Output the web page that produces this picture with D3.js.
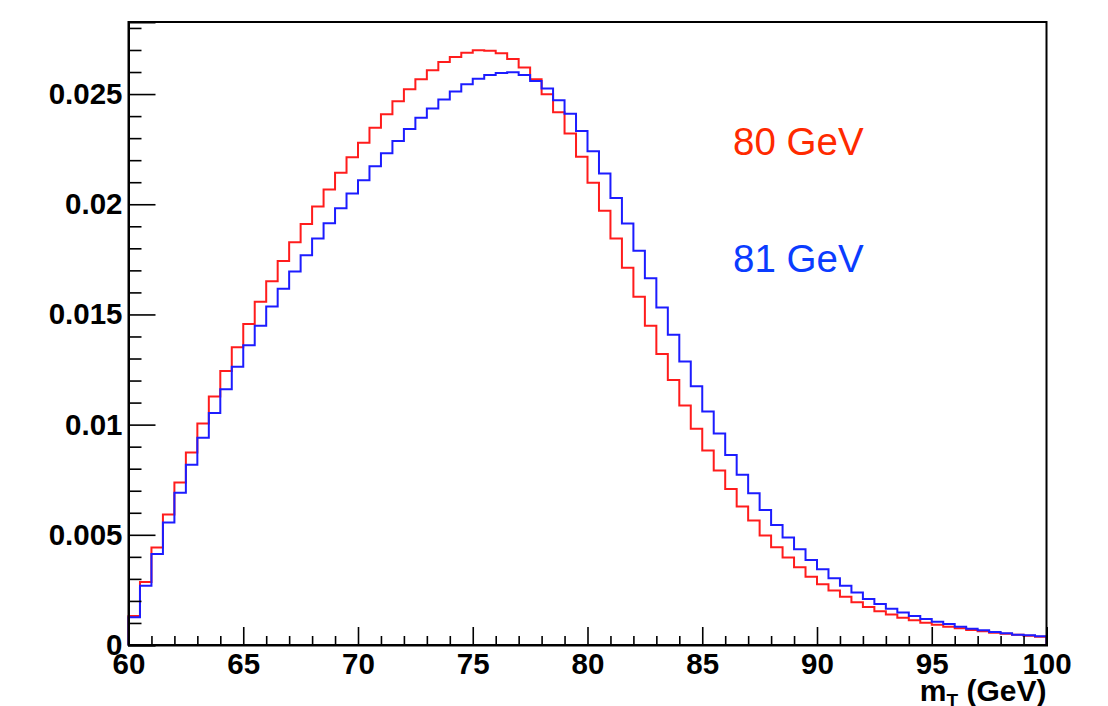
<!DOCTYPE html>
<html>
<head>
<meta charset="utf-8">
<script src="https://cdn.jsdelivr.net/npm/d3@7"></script>
<style>
  html, body { margin: 0; padding: 0; background: #fff; }
  svg { display: block; }
  text { font-family: "Liberation Sans", Arial, Helvetica, sans-serif; }
</style>
</head>
<body>
<script>
// ---- data ----
const xMin = 60, xMax = 100, binWidth = 0.5;
// bin contents (80 bins of 0.5 GeV), in units of 1e-3
const series80 = [1.32,2.86,4.42,5.92,7.37,8.73,10.05,11.28,12.43,13.51,
  14.57,15.58,16.51,17.42,18.28,19.10,19.90,20.67,21.43,22.13,
  22.79,23.47,24.08,24.67,25.22,25.67,26.08,26.46,26.68,26.88,
  26.99,26.96,26.85,26.59,26.20,25.67,24.99,24.18,23.21,22.16,
  20.98,19.70,18.45,17.12,15.80,14.49,13.21,12.03,10.87,9.81,
  8.83,7.92,7.08,6.28,5.65,4.97,4.44,3.97,3.53,3.10,
  2.76,2.47,2.19,1.94,1.73,1.53,1.38,1.24,1.12,1.01,
  0.92,0.83,0.76,0.68,0.62,0.56,0.51,0.47,0.42,0.38];
const series81 = [1.26,2.69,4.13,5.56,6.91,8.18,9.40,10.53,11.60,12.63,
  13.60,14.49,15.36,16.17,16.95,17.69,18.45,19.14,19.82,20.49,
  21.09,21.72,22.31,22.87,23.41,23.93,24.35,24.75,25.12,25.44,
  25.70,25.87,25.96,25.99,25.87,25.59,25.25,24.72,24.11,23.32,
  22.41,21.40,20.28,19.13,17.89,16.64,15.31,14.08,12.87,11.74,
  10.60,9.60,8.62,7.72,6.89,6.13,5.45,4.88,4.35,3.86,
  3.44,3.03,2.69,2.38,2.09,1.86,1.65,1.47,1.32,1.18,
  1.06,0.95,0.83,0.74,0.67,0.59,0.53,0.47,0.44,0.40];
const xTickValues = [60,65,70,75,80,85,90,95,100];
const yTickValues = [0,0.005,0.01,0.015,0.02,0.025];
const yTickLabels = ["0","0.005","0.01","0.015","0.02","0.025"];
const legendLabels = ["80 GeV","81 GeV"];
const xTitle = "m", xTitleSub = "T", xTitleRest = " (GeV)";

// ---- layout ----
const W = 1108, H = 706;
const L = 128.5, R = 1046.5, T = 22, B = 645;
const yTop = 0.02827;

const svg = d3.select("body").append("svg").attr("width", W).attr("height", H);
const x = d3.scaleLinear().domain([xMin, xMax]).range([L, R]);
const y = d3.scaleLinear().domain([0, yTop]).range([B, T]);

function histPoints(vals) {
  const pts = [[xMin, 0]];
  vals.forEach((v, i) => pts.push([xMin + i * binWidth, v / 1000]));
  pts.push([xMax, vals[vals.length - 1] / 1000]);
  pts.push([xMax, 0]);
  return pts;
}
const line = d3.line().x(d => x(d[0])).y(d => y(d[1])).curve(d3.curveStepAfter);

const colors = ["#ff1c1c", "#1c1cff"];
const textColors = ["#ff2a00", "#0a3cff"];
[series80, series81].forEach((s, k) => {
  svg.append("path").attr("d", line(histPoints(s)))
    .attr("fill", "none").attr("stroke", colors[k]).attr("stroke-width", 2)
    .attr("stroke-linejoin", "miter");
});

// frame
svg.append("rect").attr("x", L).attr("y", T).attr("width", R - L).attr("height", B - T)
  .attr("fill", "none").attr("stroke", "#000").attr("stroke-width", 2);

// y axis
const yMinor = d3.range(0, 29).map(i => i * 0.001).filter(v => v <= yTop && Math.round(v * 1000) % 5 !== 0);
svg.append("g").attr("transform", `translate(${L},0)`)
  .call(d3.axisLeft(y).tickValues(yMinor).tickSize(-13).tickFormat(""))
  .call(g => g.select(".domain").remove())
  .call(g => g.selectAll("line").attr("stroke-width", 1.6));
svg.append("g").attr("transform", `translate(${L},0)`)
  .call(d3.axisLeft(y).tickValues(yTickValues).tickSize(-27).tickPadding(6)
    .tickFormat((d, i) => yTickLabels[i]))
  .call(g => g.select(".domain").attr("stroke-width", 2))
  .call(g => g.selectAll("line").attr("stroke-width", 1.6))
  .call(g => g.selectAll("text").attr("font-size", 29.5).attr("font-weight", "bold").attr("fill", "#000"));

// x axis
const xMinor = d3.range(61, 100).filter(v => v % 5 !== 0);
svg.append("g").attr("transform", `translate(0,${B})`)
  .call(d3.axisBottom(x).tickValues(xMinor).tickSize(-9).tickFormat(""))
  .call(g => g.select(".domain").remove())
  .call(g => g.selectAll("line").attr("stroke-width", 1.6));
svg.append("g").attr("transform", `translate(0,${B})`)
  .call(d3.axisBottom(x).tickValues(xTickValues).tickSize(-18).tickPadding(8).tickFormat(d3.format("d")))
  .call(g => g.select(".domain").attr("stroke-width", 2))
  .call(g => g.selectAll("line").attr("stroke-width", 1.6))
  .call(g => g.selectAll("text").attr("font-size", 29.5).attr("font-weight", "bold").attr("fill", "#000"));

// x title
const t = svg.append("text").attr("x", R).attr("y", 701).attr("text-anchor", "end")
  .attr("font-size", 30).attr("font-weight", "bold").attr("fill", "#000");
t.append("tspan").text(xTitle);
t.append("tspan").attr("font-size", 19).attr("dy", 6).text(xTitleSub);
t.append("tspan").attr("dy", -6).text(xTitleRest);

// legend labels
[155, 272].forEach((by, k) => {
  svg.append("text").attr("x", 733).attr("y", by).attr("font-size", 38.5)
    .attr("fill", textColors[k]).text(legendLabels[k]);
});
</script>
</body>
</html>
